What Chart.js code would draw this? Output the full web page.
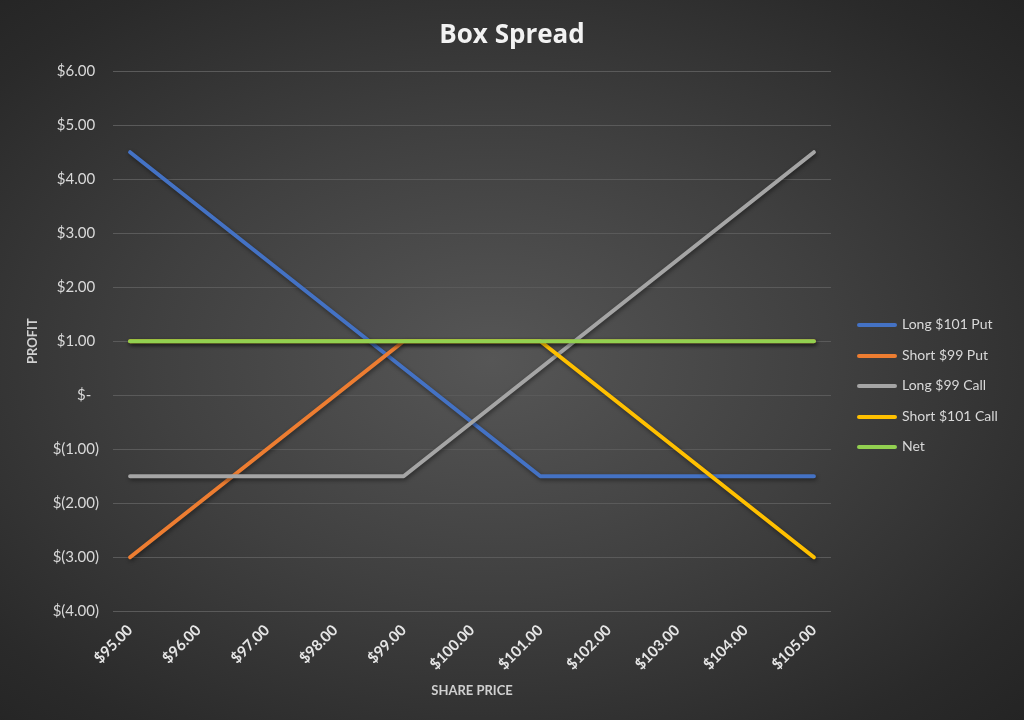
<!DOCTYPE html>
<html>
<head>
<meta charset="utf-8">
<script src="https://cdn.jsdelivr.net/npm/chart.js@4/dist/chart.umd.min.js"></script>
<style>
  html, body { margin: 0; padding: 0; }
  body {
    width: 1024px;
    height: 720px;
    background: radial-gradient(ellipse at 48% 50%, #565656 0%, #404040 45%, #2a2a2a 85%, #242424 100%);
  }
  #wrap { position: relative; width: 1024px; height: 720px; }
  #legend {
    position: absolute;
    left: 857px;
    top: 315px;
    margin: 0;
    padding: 0;
    list-style: none;
    font-family: Lato, "Open Sans", sans-serif;
    font-size: 14px;
    color: #d9d9d9;
  }
  #legend li { height: 30.5px; display: flex; align-items: flex-start; }
  #legend .swatch {
    display: inline-block;
    width: 40px;
    height: 4px;
    border-radius: 2px;
    margin-top: 8px;
    margin-right: 5px;
  }
</style>
</head>
<body>
<div id="wrap"><canvas id="chartBox"></canvas><ul id="legend"></ul></div>
<script>
const sharePrices = [95, 96, 97, 98, 99, 100, 101, 102, 103, 104, 105];
const longPut101 = [4.5, 3.5, 2.5, 1.5, 0.5, -0.5, -1.5, -1.5, -1.5, -1.5, -1.5];
const shortPut99 = [-3, -2, -1, 0, 1, 1, 1, 1, 1, 1, 1];
const longCall99 = [-1.5, -1.5, -1.5, -1.5, -1.5, -0.5, 0.5, 1.5, 2.5, 3.5, 4.5];
const shortCall101 = [1, 1, 1, 1, 1, 1, 1, 0, -1, -2, -3];
const net = [1, 1, 1, 1, 1, 1, 1, 1, 1, 1, 1];
const profitTicks = [-4, -3, -2, -1, 0, 1, 2, 3, 4, 5, 6];

const money = (v) => {
  if (v === 0) return "$-  ";
  if (v < 0) return `$(${Math.abs(v).toFixed(2)})`;
  return `$${v.toFixed(2)} `;
};

const toPoints = (arr) => arr.map((y, i) => ({ x: sharePrices[i], y }));

// excel-ish drop shadow under the lines
const lineShadow = {
  id: "lineShadow",
  beforeDatasetDraw: (chart) => {
    const ctx = chart.ctx;
    ctx.save();
    ctx.shadowColor = "rgba(0,0,0,0.45)";
    ctx.shadowBlur = 4;
    ctx.shadowOffsetX = 1;
    ctx.shadowOffsetY = 2;
  },
  afterDatasetDraw: (chart) => {
    chart.ctx.restore();
  },
};

const series = [
  { label: "Long $101 Put", data: longPut101, color: "#4472C4" },
  { label: "Short $99 Put", data: shortPut99, color: "#ED7D31" },
  { label: "Long $99 Call", data: longCall99, color: "#A5A5A5" },
  { label: "Short $101 Call", data: shortCall101, color: "#FFC000" },
  { label: "Net", data: net, color: "#92D050" },
];

const data = {
  datasets: series.map((s, i) => ({
    label: s.label,
    data: toPoints(s.data),
    borderColor: s.color,
    backgroundColor: s.color,
    borderWidth: 4,
    pointRadius: 0,
    tension: 0,
    borderCapStyle: "round",
    borderJoinStyle: "round",
    order: series.length - 1 - i,
  })),
};

const fontFam = "Lato, 'Open Sans', sans-serif";

const options = {
  responsive: false,
  animation: false,
  layout: { padding: { left: 0, right: 0, top: 0, bottom: 17 } },
  scales: {
    x: {
      type: "linear",
      min: 94.75,
      max: 105.25,
      afterBuildTicks: (scale) => {
        scale.ticks = sharePrices.map((v) => ({ value: v }));
      },
      grid: { display: false, drawTicks: false },
      border: { display: false },
      ticks: {
        color: "#e6e6e6",
        font: { family: fontFam, size: 15, weight: "bold" },
        minRotation: 45,
        maxRotation: 45,
        padding: 10,
        callback: (v) => money(v).trim(),
      },
      title: {
        display: true,
        text: "SHARE PRICE",
        color: "#d0d0d0",
        font: { family: fontFam, size: 13, weight: "bold" },
        padding: { top: 0 },
      },
    },
    y: {
      min: -4,
      max: 6,
      afterBuildTicks: (scale) => {
        scale.ticks = profitTicks.map((v) => ({ value: v }));
      },
      afterFit: (scale) => {
        scale.width = 113;
      },
      grid: { color: "#5a5a5a", lineWidth: 1, drawTicks: false },
      border: { display: false },
      ticks: {
        color: "#d9d9d9",
        font: { family: fontFam, size: 15 },
        padding: 14,
        callback: (v) => money(v),
      },
      title: {
        display: true,
        text: "PROFIT",
        color: "#d0d0d0",
        font: { family: fontFam, size: 13, weight: "bold" },
        padding: { top: 25, bottom: 0 },
      },
    },
    // empty axis that keeps room on the right for the legend
    legendRoom: {
      type: "linear",
      position: "right",
      min: -4,
      max: 6,
      afterFit: (scale) => {
        scale.width = 193;
      },
      grid: { display: false, drawTicks: false },
      border: { display: false },
      ticks: { display: false },
    },
  },
  plugins: {
    title: {
      display: true,
      text: "Box Spread",
      color: "#f2f2f2",
      font: { family: "'Open Sans', Lato, sans-serif", size: 26, weight: "bold" },
      padding: { top: 20, bottom: 20 },
    },
    legend: { display: false },
    tooltip: { enabled: false },
  },
};

const ctx = document.getElementById("chartBox");
ctx.width = 1024;
ctx.height = 720;
const chart = new Chart(ctx, {
  type: "line",
  data: data,
  options: options,
  plugins: [lineShadow],
});

// legend in the same order as the series
const legend = document.getElementById("legend");
chart.data.datasets.forEach((ds) => {
  const li = document.createElement("li");
  const sw = document.createElement("span");
  sw.className = "swatch";
  sw.style.background = ds.borderColor;
  li.appendChild(sw);
  li.appendChild(document.createTextNode(ds.label));
  legend.appendChild(li);
});
</script>
</body>
</html>
